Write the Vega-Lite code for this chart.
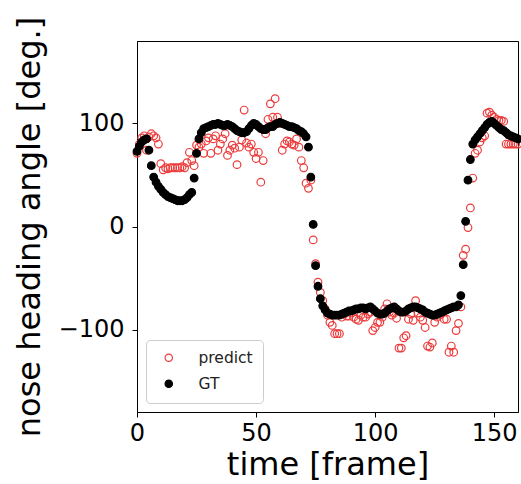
{
  "$schema": "https://vega.github.io/schema/vega-lite/v6.json",
  "width": 381,
  "height": 371,
  "autosize": {"type": "none"},
  "padding": {"left": 137, "top": 41, "right": 3, "bottom": 72},
  "background": "white",
  "config": {
    "font": "DejaVu Sans",
    "view": {"stroke": "black", "strokeWidth": 1},
    "axis": {"grid": false, "domainColor": "black", "tickColor": "black", "tickSize": 5, "labelColor": "black", "titleColor": "black", "labelFontSize": 24, "titleFontSize": 32, "titleFontWeight": "normal", "labelFont": "DejaVu Sans", "titleFont": "DejaVu Sans", "labelFlush": false},
    "legend": {"orient": "bottom-left", "offset": 9, "strokeColor": "#cccccc", "cornerRadius": 4, "fillColor": "white", "padding": 10, "symbolOffset": 5, "labelOffset": 22, "labelFontSize": 15.5, "labelFont": "DejaVu Sans", "labelColor": "#222222", "rowPadding": 9, "symbolStrokeWidth": 1.2, "symbolSize": 55}
  },
  "data": {"values": [
    {"t":0,"v":71,"s":"predict"},{"t":1,"v":80,"s":"predict"},{"t":2,"v":86,"s":"predict"},{"t":3,"v":88,"s":"predict"},{"t":4,"v":74,"s":"predict"},{"t":5,"v":87,"s":"predict"},{"t":6,"v":90,"s":"predict"},{"t":7,"v":88,"s":"predict"},{"t":8,"v":86,"s":"predict"},{"t":9,"v":80,"s":"predict"},
    {"t":10,"v":61,"s":"predict"},{"t":11,"v":55,"s":"predict"},{"t":12,"v":57,"s":"predict"},{"t":13,"v":56,"s":"predict"},{"t":14,"v":57,"s":"predict"},{"t":15,"v":57,"s":"predict"},{"t":16,"v":57,"s":"predict"},{"t":17,"v":57,"s":"predict"},{"t":18,"v":57,"s":"predict"},{"t":19,"v":58,"s":"predict"},
    {"t":20,"v":57,"s":"predict"},{"t":21,"v":62,"s":"predict"},{"t":22,"v":72,"s":"predict"},{"t":23,"v":64,"s":"predict"},{"t":24,"v":59,"s":"predict"},{"t":25,"v":79,"s":"predict"},{"t":26,"v":77,"s":"predict"},{"t":27,"v":80,"s":"predict"},{"t":28,"v":71,"s":"predict"},{"t":29,"v":83,"s":"predict"},
    {"t":30,"v":86,"s":"predict"},{"t":31,"v":71,"s":"predict"},{"t":32,"v":85,"s":"predict"},{"t":33,"v":88,"s":"predict"},{"t":34,"v":74,"s":"predict"},{"t":35,"v":80,"s":"predict"},{"t":36,"v":85,"s":"predict"},{"t":37,"v":90,"s":"predict"},{"t":38,"v":69,"s":"predict"},{"t":39,"v":74,"s":"predict"},
    {"t":40,"v":79,"s":"predict"},{"t":41,"v":76,"s":"predict"},{"t":42,"v":60,"s":"predict"},{"t":43,"v":77,"s":"predict"},{"t":44,"v":84,"s":"predict"},{"t":45,"v":113,"s":"predict"},{"t":46,"v":81,"s":"predict"},{"t":47,"v":77,"s":"predict"},{"t":48,"v":80,"s":"predict"},{"t":49,"v":72,"s":"predict"},
    {"t":50,"v":66,"s":"predict"},{"t":51,"v":72,"s":"predict"},{"t":52,"v":43,"s":"predict"},{"t":53,"v":64,"s":"predict"},{"t":54,"v":90,"s":"predict"},{"t":55,"v":104,"s":"predict"},{"t":56,"v":119,"s":"predict"},{"t":57,"v":106,"s":"predict"},{"t":58,"v":124,"s":"predict"},{"t":59,"v":106,"s":"predict"},
    {"t":60,"v":100,"s":"predict"},{"t":61,"v":74,"s":"predict"},{"t":62,"v":80,"s":"predict"},{"t":63,"v":83,"s":"predict"},{"t":64,"v":82,"s":"predict"},{"t":65,"v":80,"s":"predict"},{"t":66,"v":79,"s":"predict"},{"t":67,"v":85,"s":"predict"},{"t":68,"v":77,"s":"predict"},{"t":69,"v":64,"s":"predict"},
    {"t":70,"v":57,"s":"predict"},{"t":71,"v":42,"s":"predict"},{"t":72,"v":37,"s":"predict"},{"t":73,"v":45,"s":"predict"},{"t":74,"v":-13,"s":"predict"},{"t":75,"v":-36,"s":"predict"},{"t":76,"v":-54,"s":"predict"},{"t":77,"v":-64,"s":"predict"},{"t":78,"v":-72,"s":"predict"},{"t":79,"v":-80,"s":"predict"},
    {"t":80,"v":-86,"s":"predict"},{"t":81,"v":-93,"s":"predict"},{"t":82,"v":-96,"s":"predict"},{"t":83,"v":-104,"s":"predict"},{"t":84,"v":-104,"s":"predict"},{"t":85,"v":-104,"s":"predict"},{"t":86,"v":-88,"s":"predict"},{"t":87,"v":-85,"s":"predict"},{"t":88,"v":-87,"s":"predict"},{"t":89,"v":-87,"s":"predict"},
    {"t":90,"v":-84,"s":"predict"},{"t":91,"v":-88,"s":"predict"},{"t":92,"v":-90,"s":"predict"},{"t":93,"v":-91,"s":"predict"},{"t":94,"v":-86,"s":"predict"},{"t":95,"v":-88,"s":"predict"},{"t":96,"v":-88,"s":"predict"},{"t":97,"v":-85,"s":"predict"},{"t":98,"v":-83,"s":"predict"},{"t":99,"v":-101,"s":"predict"},
    {"t":100,"v":-98,"s":"predict"},{"t":101,"v":-93,"s":"predict"},{"t":102,"v":-93,"s":"predict"},{"t":103,"v":-88,"s":"predict"},{"t":104,"v":-80,"s":"predict"},{"t":105,"v":-75,"s":"predict"},{"t":106,"v":-83,"s":"predict"},{"t":107,"v":-86,"s":"predict"},{"t":108,"v":-84,"s":"predict"},{"t":109,"v":-89,"s":"predict"},
    {"t":110,"v":-118,"s":"predict"},{"t":111,"v":-118,"s":"predict"},{"t":112,"v":-108,"s":"predict"},{"t":113,"v":-106,"s":"predict"},{"t":114,"v":-90,"s":"predict"},{"t":115,"v":-85,"s":"predict"},{"t":116,"v":-91,"s":"predict"},{"t":117,"v":-72,"s":"predict"},{"t":118,"v":-84,"s":"predict"},{"t":119,"v":-88,"s":"predict"},
    {"t":120,"v":-91,"s":"predict"},{"t":121,"v":-98,"s":"predict"},{"t":122,"v":-116,"s":"predict"},{"t":123,"v":-117,"s":"predict"},{"t":124,"v":-113,"s":"predict"},{"t":125,"v":-93,"s":"predict"},{"t":126,"v":-88,"s":"predict"},{"t":127,"v":-86,"s":"predict"},{"t":128,"v":-84,"s":"predict"},{"t":129,"v":-90,"s":"predict"},
    {"t":130,"v":-90,"s":"predict"},{"t":131,"v":-122,"s":"predict"},{"t":132,"v":-116,"s":"predict"},{"t":133,"v":-122,"s":"predict"},{"t":134,"v":-101,"s":"predict"},{"t":135,"v":-94,"s":"predict"},{"t":136,"v":-78,"s":"predict"},{"t":137,"v":-28,"s":"predict"},{"t":138,"v":-22,"s":"predict"},{"t":139,"v":-1,"s":"predict"},
    {"t":140,"v":18,"s":"predict"},{"t":141,"v":47,"s":"predict"},{"t":142,"v":71,"s":"predict"},{"t":143,"v":74,"s":"predict"},{"t":144,"v":82,"s":"predict"},{"t":145,"v":86,"s":"predict"},{"t":146,"v":88,"s":"predict"},{"t":147,"v":110,"s":"predict"},{"t":148,"v":111,"s":"predict"},{"t":149,"v":108,"s":"predict"},
    {"t":150,"v":106,"s":"predict"},{"t":151,"v":104,"s":"predict"},{"t":152,"v":103,"s":"predict"},{"t":153,"v":103,"s":"predict"},{"t":154,"v":102,"s":"predict"},{"t":155,"v":80,"s":"predict"},{"t":156,"v":80,"s":"predict"},{"t":157,"v":80,"s":"predict"},{"t":158,"v":80,"s":"predict"},{"t":159,"v":80,"s":"predict"},{"t":160,"v":80,"s":"predict"},
    {"t":0,"v":73,"s":"GT"},{"t":1,"v":78,"s":"GT"},{"t":2,"v":82,"s":"GT"},{"t":3,"v":84,"s":"GT"},{"t":4,"v":85,"s":"GT"},{"t":5,"v":74,"s":"GT"},{"t":6,"v":59,"s":"GT"},{"t":7,"v":48,"s":"GT"},{"t":8,"v":43,"s":"GT"},{"t":9,"v":39,"s":"GT"},
    {"t":10,"v":36,"s":"GT"},{"t":11,"v":33,"s":"GT"},{"t":12,"v":31,"s":"GT"},{"t":13,"v":29,"s":"GT"},{"t":14,"v":28,"s":"GT"},{"t":15,"v":27,"s":"GT"},{"t":16,"v":26,"s":"GT"},{"t":17,"v":25,"s":"GT"},{"t":18,"v":25,"s":"GT"},{"t":19,"v":25,"s":"GT"},
    {"t":20,"v":26,"s":"GT"},{"t":21,"v":28,"s":"GT"},{"t":22,"v":31,"s":"GT"},{"t":23,"v":33,"s":"GT"},{"t":24,"v":47,"s":"GT"},{"t":25,"v":71,"s":"GT"},{"t":26,"v":85,"s":"GT"},{"t":27,"v":91,"s":"GT"},{"t":28,"v":95,"s":"GT"},{"t":29,"v":96,"s":"GT"},
    {"t":30,"v":97,"s":"GT"},{"t":31,"v":98,"s":"GT"},{"t":32,"v":99,"s":"GT"},{"t":33,"v":99,"s":"GT"},{"t":34,"v":100,"s":"GT"},{"t":35,"v":99,"s":"GT"},{"t":36,"v":98,"s":"GT"},{"t":37,"v":98,"s":"GT"},{"t":38,"v":99,"s":"GT"},{"t":39,"v":98,"s":"GT"},
    {"t":40,"v":97,"s":"GT"},{"t":41,"v":95,"s":"GT"},{"t":42,"v":93,"s":"GT"},{"t":43,"v":92,"s":"GT"},{"t":44,"v":91,"s":"GT"},{"t":45,"v":91,"s":"GT"},{"t":46,"v":92,"s":"GT"},{"t":47,"v":95,"s":"GT"},{"t":48,"v":98,"s":"GT"},{"t":49,"v":100,"s":"GT"},
    {"t":50,"v":99,"s":"GT"},{"t":51,"v":97,"s":"GT"},{"t":52,"v":95,"s":"GT"},{"t":53,"v":94,"s":"GT"},{"t":54,"v":94,"s":"GT"},{"t":55,"v":96,"s":"GT"},{"t":56,"v":97,"s":"GT"},{"t":57,"v":97,"s":"GT"},{"t":58,"v":99,"s":"GT"},{"t":59,"v":100,"s":"GT"},
    {"t":60,"v":101,"s":"GT"},{"t":61,"v":100,"s":"GT"},{"t":62,"v":99,"s":"GT"},{"t":63,"v":98,"s":"GT"},{"t":64,"v":97,"s":"GT"},{"t":65,"v":97,"s":"GT"},{"t":66,"v":96,"s":"GT"},{"t":67,"v":95,"s":"GT"},{"t":68,"v":93,"s":"GT"},{"t":69,"v":92,"s":"GT"},
    {"t":70,"v":90,"s":"GT"},{"t":71,"v":87,"s":"GT"},{"t":72,"v":77,"s":"GT"},{"t":73,"v":48,"s":"GT"},{"t":74,"v":2,"s":"GT"},{"t":75,"v":-38,"s":"GT"},{"t":76,"v":-58,"s":"GT"},{"t":77,"v":-70,"s":"GT"},{"t":78,"v":-77,"s":"GT"},{"t":79,"v":-81,"s":"GT"},
    {"t":80,"v":-84,"s":"GT"},{"t":81,"v":-85,"s":"GT"},{"t":82,"v":-86,"s":"GT"},{"t":83,"v":-86,"s":"GT"},{"t":84,"v":-86,"s":"GT"},{"t":85,"v":-86,"s":"GT"},{"t":86,"v":-85,"s":"GT"},{"t":87,"v":-84,"s":"GT"},{"t":88,"v":-83,"s":"GT"},{"t":89,"v":-82,"s":"GT"},
    {"t":90,"v":-82,"s":"GT"},{"t":91,"v":-81,"s":"GT"},{"t":92,"v":-80,"s":"GT"},{"t":93,"v":-80,"s":"GT"},{"t":94,"v":-79,"s":"GT"},{"t":95,"v":-79,"s":"GT"},{"t":96,"v":-80,"s":"GT"},{"t":97,"v":-79,"s":"GT"},{"t":98,"v":-78,"s":"GT"},{"t":99,"v":-80,"s":"GT"},
    {"t":100,"v":-82,"s":"GT"},{"t":101,"v":-84,"s":"GT"},{"t":102,"v":-85,"s":"GT"},{"t":103,"v":-85,"s":"GT"},{"t":104,"v":-84,"s":"GT"},{"t":105,"v":-82,"s":"GT"},{"t":106,"v":-80,"s":"GT"},{"t":107,"v":-79,"s":"GT"},{"t":108,"v":-78,"s":"GT"},{"t":109,"v":-80,"s":"GT"},
    {"t":110,"v":-82,"s":"GT"},{"t":111,"v":-83,"s":"GT"},{"t":112,"v":-83,"s":"GT"},{"t":113,"v":-82,"s":"GT"},{"t":114,"v":-80,"s":"GT"},{"t":115,"v":-79,"s":"GT"},{"t":116,"v":-78,"s":"GT"},{"t":117,"v":-78,"s":"GT"},{"t":118,"v":-79,"s":"GT"},{"t":119,"v":-80,"s":"GT"},
    {"t":120,"v":-81,"s":"GT"},{"t":121,"v":-83,"s":"GT"},{"t":122,"v":-84,"s":"GT"},{"t":123,"v":-85,"s":"GT"},{"t":124,"v":-86,"s":"GT"},{"t":125,"v":-86,"s":"GT"},{"t":126,"v":-85,"s":"GT"},{"t":127,"v":-84,"s":"GT"},{"t":128,"v":-83,"s":"GT"},{"t":129,"v":-82,"s":"GT"},
    {"t":130,"v":-81,"s":"GT"},{"t":131,"v":-80,"s":"GT"},{"t":132,"v":-79,"s":"GT"},{"t":133,"v":-78,"s":"GT"},{"t":134,"v":-78,"s":"GT"},{"t":135,"v":-76,"s":"GT"},{"t":136,"v":-67,"s":"GT"},{"t":137,"v":-37,"s":"GT"},{"t":138,"v":5,"s":"GT"},{"t":139,"v":45,"s":"GT"},
    {"t":140,"v":65,"s":"GT"},{"t":141,"v":80,"s":"GT"},{"t":142,"v":84,"s":"GT"},{"t":143,"v":87,"s":"GT"},{"t":144,"v":90,"s":"GT"},{"t":145,"v":93,"s":"GT"},{"t":146,"v":96,"s":"GT"},{"t":147,"v":99,"s":"GT"},{"t":148,"v":101,"s":"GT"},{"t":149,"v":102,"s":"GT"},
    {"t":150,"v":100,"s":"GT"},{"t":151,"v":98,"s":"GT"},{"t":152,"v":96,"s":"GT"},{"t":153,"v":94,"s":"GT"},{"t":154,"v":93,"s":"GT"},{"t":155,"v":91,"s":"GT"},{"t":156,"v":89,"s":"GT"},{"t":157,"v":88,"s":"GT"},{"t":158,"v":87,"s":"GT"},{"t":159,"v":86,"s":"GT"},{"t":160,"v":85,"s":"GT"}
  ]},
  "mark": {"type": "circle", "size": 58, "strokeWidth": 1.2, "opacity": 1},
  "encoding": {
    "x": {"field": "t", "type": "quantitative", "scale": {"domain": [0, 160], "nice": false, "zero": false}, "axis": {"title": "time [frame]", "values": [0, 50, 100, 150], "labelPadding": 4, "titlePadding": 4}},
    "y": {"field": "v", "type": "quantitative", "scale": {"domain": [-180, 180], "nice": false}, "axis": {"title": "nose heading angle [deg.]", "values": [-100, 0, 100], "labelPadding": 8, "titlePadding": 12}},
    "stroke": {"field": "s", "type": "nominal", "scale": {"domain": ["predict", "GT"], "range": ["#ec3b3b", "black"]}, "legend": {"title": null}},
    "fill": {"field": "s", "type": "nominal", "scale": {"domain": ["predict", "GT"], "range": ["transparent", "black"]}, "legend": {"title": null}}
  }
}
